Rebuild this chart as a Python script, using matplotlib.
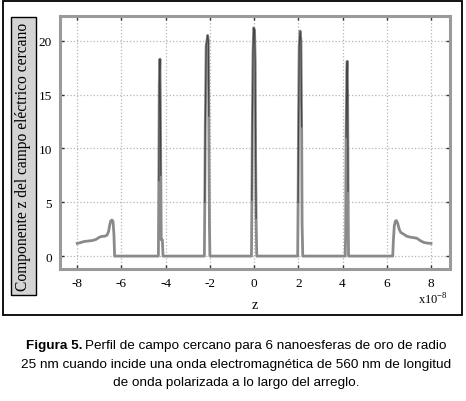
import matplotlib
matplotlib.use("Agg")
from matplotlib import pyplot as plt
from matplotlib.patches import Rectangle

plt.rcParams['axes.unicode_minus'] = False

# perfil de campo (z en unidades de 1e-8)
z = [-8.0, -7.85, -7.7, -7.5, -7.3, -7.15, -7.0, -6.88, -6.75, -6.65, -6.58, -6.54, -6.49, -6.43, -6.38, -6.34, -6.31,
     -4.33, -4.31, -4.29, -4.26, -4.24, -4.22, -4.2, -4.15, -4.12,
     -2.25, -2.23, -2.21, -2.17, -2.1, -2.07, -2.05, -2.02, -2.0,
     -0.12, -0.1, -0.08, -0.05, -0.02, 0.02, 0.05, 0.07, 0.09, 0.12,
     1.97, 1.99, 2.01, 2.04, 2.08, 2.12, 2.15, 2.17, 2.2,
     4.12, 4.14, 4.16, 4.19, 4.21, 4.23, 4.25, 4.27,
     6.27, 6.3, 6.34, 6.39, 6.44, 6.5, 6.56, 6.63, 6.75, 6.9, 7.07, 7.25, 7.37, 7.5, 7.67, 7.85, 8.0]
Ez = [1.18, 1.25, 1.35, 1.4, 1.45, 1.55, 1.75, 1.83, 1.85, 1.95, 2.3, 2.8, 3.25, 3.35, 3.2, 2.0, 0.0,
      0.0, 7.0, 16.0, 18.3, 14.0, 7.5, 1.5, 1.5, 0.0,
      0.0, 5.0, 12.0, 19.5, 20.5, 20.0, 13.0, 2.7, 0.0,
      0.0, 5.2, 12.5, 19.0, 21.2, 21.0, 18.0, 9.0, 3.5, 0.0,
      0.0, 5.0, 13.0, 19.5, 20.9, 20.0, 12.0, 3.0, 0.0,
      0.0, 2.0, 11.0, 17.0, 18.1, 15.0, 6.0, 0.0,
      0.0, 1.5, 2.8, 3.25, 3.3, 3.0, 2.5, 2.2, 2.05, 1.85, 1.75, 1.7, 1.65, 1.45, 1.27, 1.2, 1.18]

xticks = [-8, -6, -4, -2, 0, 2, 4, 6, 8]
yticks = [0, 5, 10, 15, 20]

fig = plt.figure(figsize=(4.66, 4.02), dpi=100)
ax = fig.add_axes([60/466, 132/402, 390/466, 253/402])

ax.plot(z, Ez, color='#8a8a8a', lw=2.0)
# trazo oscuro en el interior de los picos
spk = [(a, b) for a, b in zip(z, Ez) if -5 < a < 5 and b > 3]
for c in [-4.25, -2.1, 0.0, 2.08, 4.2]:
    seg = [p for p in spk if abs(p[0] - c) < 0.2]
    ax.plot([p[0] for p in seg], [p[1] for p in seg], color='#444444', lw=0.8)

ax.set_xlim(-8.78, 8.86)
ax.set_ylim(-1.2, 22.3)
ax.set_xticks(xticks)
ax.set_yticks(yticks)
ax.set_xticklabels([str(t) for t in xticks], family='Liberation Serif', fontsize=9.5)
ax.set_yticklabels([str(t) for t in yticks], family='Liberation Serif', fontsize=9.5)
ax.tick_params(direction='in', length=3, width=1, color='#333333', top=True, right=True, pad=6)
ax.grid(True, ls=':', color='#b5b5b5', lw=0.9)
for s in ax.spines.values():
    s.set_color('#9a9a9a')
    s.set_linewidth(2.2)

ax.set_xlabel('z', family='Liberation Serif', fontsize=10, labelpad=6)
fig.text(418/466, 1 - 300/402, r'x10$^{\mathregular{-8}}$', family='Liberation Serif', fontsize=9,
         va='center', ha='left')

fig.text(23.5/466, 1 - 157/402, 'Componente z del campo eléctrico cercano', rotation=90,
         family='Liberation Serif', fontsize=11.2, ha='center', va='center',
         bbox=dict(boxstyle='square,pad=0.3', fc='#d4d4d4', ec='black', lw=1))

# marco exterior
fig.patches.append(Rectangle((3/466, 86/402), 459/466, 314/402, transform=fig.transFigure,
                             fill=False, ec='black', lw=1.3))

# leyenda de la figura
cap_font = 'Liberation Sans'
cap_size = 9.7
t1 = fig.text(0, 1 - 346/402, 'Figura 5.', family=cap_font, fontsize=cap_size, weight='bold',
              va='center', ha='left')
t2 = fig.text(0, 1 - 346/402, 'Perfil de campo cercano para 6 nanoesferas de oro de radio',
              family=cap_font, fontsize=cap_size, va='center', ha='left')
fig.canvas.draw()
w1 = t1.get_window_extent().width
w2 = t2.get_window_extent().width
x0 = 236 - (w1 + 3 + w2) / 2
t1.set_x(x0 / 466)
t2.set_x((x0 + w1 + 3) / 466)
fig.text(236/466, 1 - 365/402, '25 nm cuando incide una onda electromagnética de 560 nm de longitud',
         family=cap_font, fontsize=cap_size, va='center', ha='center')
fig.text(236/466, 1 - 383/402, 'de onda polarizada a lo largo del arreglo.',
         family=cap_font, fontsize=cap_size, va='center', ha='center')

fig.savefig('out.png', dpi=100)
